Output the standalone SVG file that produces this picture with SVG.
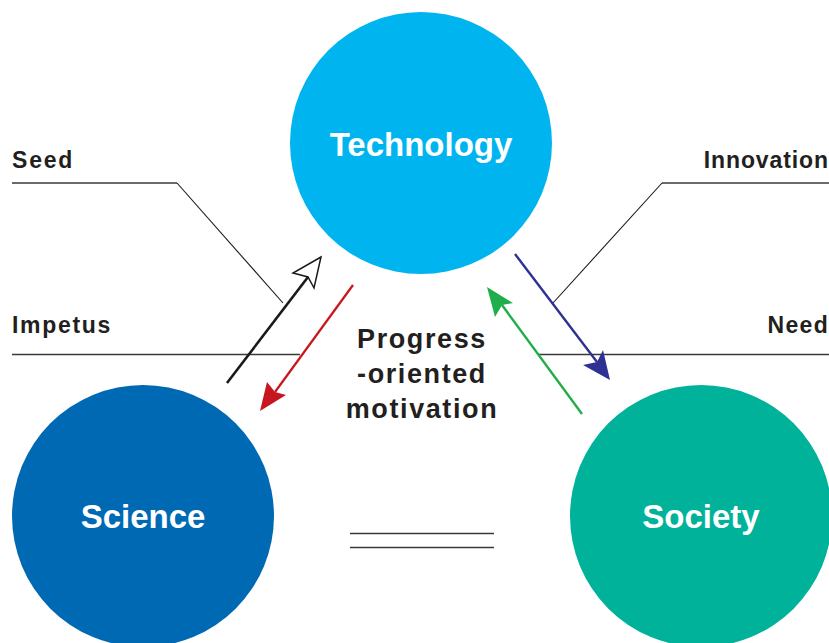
<svg xmlns="http://www.w3.org/2000/svg" width="829" height="643" viewBox="0 0 829 643">
<style>
.node-label{font-family:"Liberation Sans",Arial,sans-serif;font-weight:bold;font-size:33px;fill:#ffffff;text-anchor:middle}
.lbl{font-family:"Liberation Sans",Arial,sans-serif;font-weight:bold;font-size:23px;fill:#231f20}
.center{font-family:"Liberation Sans",Arial,sans-serif;font-weight:bold;font-size:27px;fill:#231f20;text-anchor:middle;letter-spacing:1.6px}
.guide{fill:none;stroke:#3a3a3a;stroke-width:1.4}
.leader{fill:none;stroke:#1a1a1a;stroke-width:1.1}
</style>
<rect width="829" height="643" fill="#ffffff"/>
<g id="technology">
<circle cx="421" cy="143" r="131" fill="#00b5ef"/>
<text class="node-label" x="421" y="156" font-size="34">Technology</text>
</g>
<g id="science">
<circle cx="143" cy="516" r="131" fill="#0069b4"/>
<text class="node-label" x="143" y="528">Science</text>
</g>
<g id="society">
<circle cx="701" cy="516" r="131" fill="#00b29a"/>
<text class="node-label" x="701" y="528">Society</text>
</g>
<g id="labels">
<text class="lbl" x="12" y="168" letter-spacing="1.8">Seed</text>
<text class="lbl" x="12" y="333" letter-spacing="1.7">Impetus</text>
<text class="lbl" x="829" y="168" text-anchor="end" letter-spacing="0.9">Innovation</text>
<text class="lbl" x="829" y="333" text-anchor="end" letter-spacing="1.3">Need</text>
</g>
<g id="motivation">
<text class="center" x="422" y="348">Progress</text>
<text class="center" x="422" y="383">-oriented</text>
<text class="center" x="422" y="418">motivation</text>
</g>
<g id="connectors">
<polyline class="guide" points="12,183 177,183"/>
<polyline class="leader" points="177,183 283,303"/>
<line class="guide" x1="12" y1="354.5" x2="300" y2="354.5"/>
<line class="guide" x1="538" y1="354.5" x2="829" y2="354.5"/>
<polyline class="guide" points="829,183 662,183"/>
<polyline class="leader" points="662,183 553,303"/>
<line class="guide" x1="350" y1="533.5" x2="494" y2="533.5"/>
<line class="guide" x1="350" y1="547.5" x2="494" y2="547.5"/>
<line x1="227" y1="383" x2="308" y2="277" stroke="#1a1a1a" stroke-width="2.6"/>
<polygon points="321,257 293,273 308,277 314,288" fill="#ffffff" stroke="#1a1a1a" stroke-width="1.5" stroke-linejoin="miter"/>
<line x1="353" y1="285" x2="275" y2="392" stroke="#c8161e" stroke-width="2.2"/>
<polygon points="260,411 267,382 275,392 286,395" fill="#c8161e"/>
<line x1="515" y1="254" x2="597" y2="362" stroke="#2e3192" stroke-width="2.4"/>
<polygon points="610,380 603,350 597,362 583,365" fill="#2e3192"/>
<line x1="582" y1="414" x2="502" y2="305" stroke="#1fae4b" stroke-width="2.4"/>
<polygon points="487,287 495,317 502,305 513,303" fill="#1fae4b"/>
</g>
</svg>
